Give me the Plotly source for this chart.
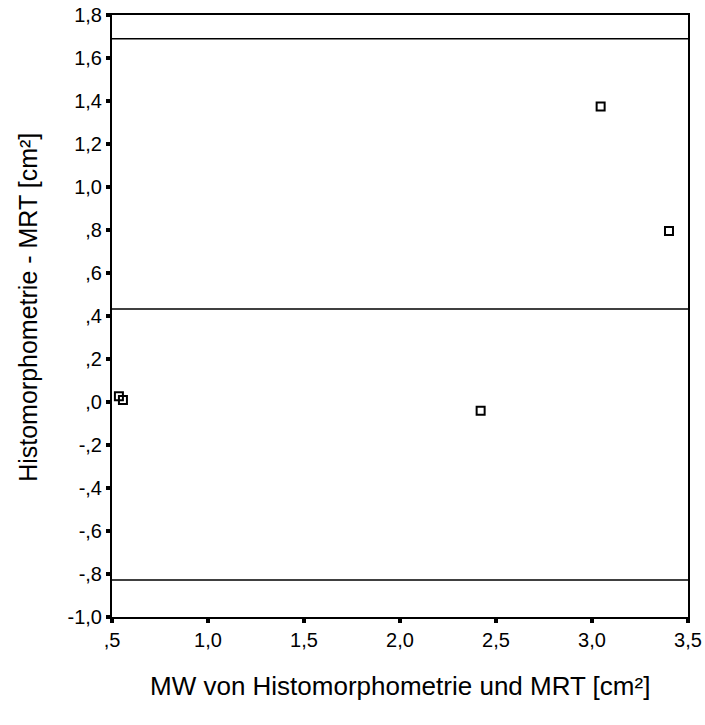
import plotly.graph_objects as go

# Data
mean_vals = [0.536, 0.557, 2.42, 3.045, 3.401]
diff_vals = [0.027, 0.009, -0.041, 1.375, 0.795]
ref_lines = [1.69, 0.432, -0.828]

x_tickvals = [0.5, 1.0, 1.5, 2.0, 2.5, 3.0, 3.5]
x_ticktext = [",5", "1,0", "1,5", "2,0", "2,5", "3,0", "3,5"]
y_tickvals = [-1.0, -0.8, -0.6, -0.4, -0.2, 0.0, 0.2, 0.4, 0.6, 0.8, 1.0, 1.2, 1.4, 1.6, 1.8]
y_ticktext = ["-1,0", "-,8", "-,6", "-,4", "-,2", ",0", ",2", ",4", ",6", ",8", "1,0", "1,2", "1,4", "1,6", "1,8"]
x_title = "MW von Histomorphometrie und MRT [cm²]"
y_title = "Histomorphometrie - MRT [cm²]"

fig = go.Figure()
fig.add_trace(go.Scatter(
    x=mean_vals, y=diff_vals, mode="markers",
    marker=dict(symbol="square-open", size=8, color="black", line=dict(width=2, color="black")),
    showlegend=False, cliponaxis=False,
))
for v in ref_lines:
    fig.add_shape(type="line", xref="paper", x0=0, x1=1, yref="y", y0=v, y1=v,
                  line=dict(color="black", width=1.5))

font = "Liberation Sans, Arial, sans-serif"
fig.update_layout(
    width=705, height=725,
    margin=dict(l=112, r=17, t=15, b=108, autoexpand=False),
    paper_bgcolor="white", plot_bgcolor="white",
    font=dict(family=font, color="black", size=20),
    xaxis=dict(range=[0.5, 3.5], tickvals=x_tickvals, ticktext=x_ticktext, automargin=False,
               showgrid=False, zeroline=False, showline=True, linecolor="black", linewidth=2,
               mirror=True, ticks="outside", ticklen=4, tickwidth=4, tickcolor="black",
               tickfont=dict(size=20)),
    yaxis=dict(range=[-1.0, 1.8], tickvals=y_tickvals, ticktext=y_ticktext, automargin=False,
               showgrid=False, zeroline=False, showline=True, linecolor="black", linewidth=2,
               mirror=True, ticks="outside", ticklen=4, tickwidth=4, tickcolor="black",
               tickfont=dict(size=20)),
    annotations=[
        dict(text=x_title, xref="paper", yref="paper", x=0.5, y=-0.115,
             xanchor="center", yanchor="middle", showarrow=False, font=dict(size=26)),
        dict(text=y_title, xref="paper", yref="paper", x=-0.146, y=0.515,
             xanchor="center", yanchor="middle", textangle=-90, showarrow=False, font=dict(size=25)),
    ],
)
fig.write_html("out.html")
